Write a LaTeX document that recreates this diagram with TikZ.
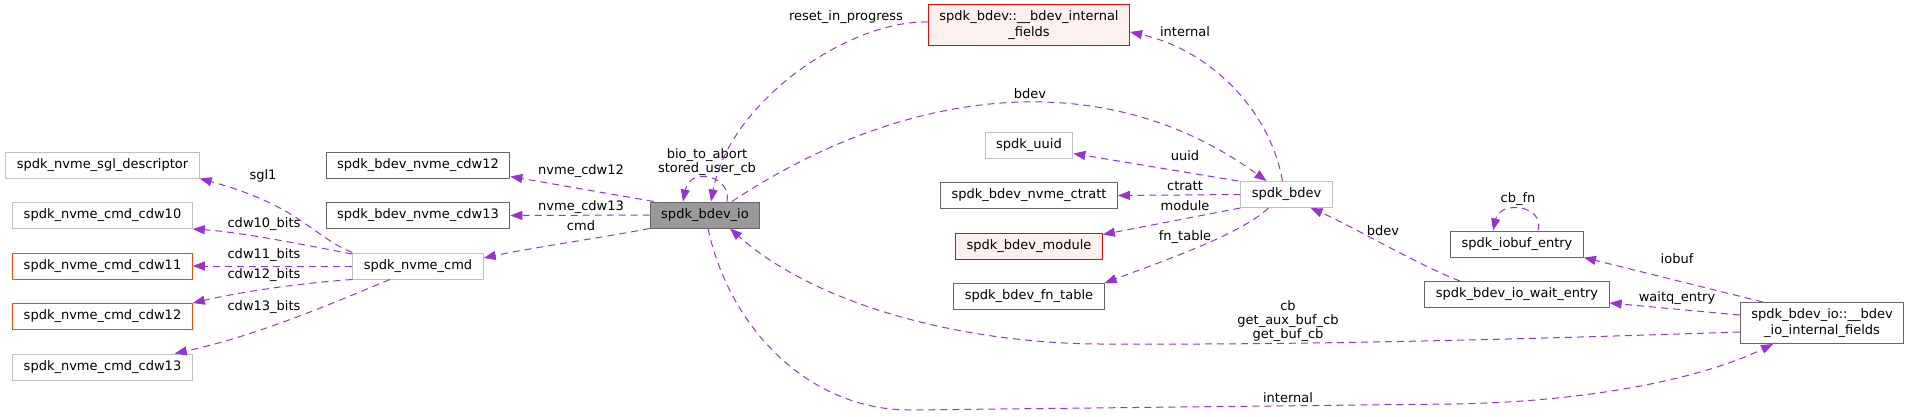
\documentclass[tikz,border=0pt]{standalone}
\usepackage{fontspec}
\setmainfont{DejaVu Sans}
\usetikzlibrary{arrows.meta,positioning,calc}
\usepackage{xcolor}

\definecolor{edgecol}{HTML}{9A32CD}
\definecolor{docline}{HTML}{666666}
\definecolor{undocline}{HTML}{BFBFBF}
\definecolor{rootfill}{HTML}{999999}
\definecolor{truncfill}{HTML}{FFF0F0}
\definecolor{partline}{HTML}{FF4500}

\begin{document}
\begin{tikzpicture}[
    x=1pt, y=-1pt,
    cls/.style={draw, line width=1pt, minimum height=26pt, inner xsep=11pt,
                inner ysep=6pt, align=center, font=\fontsize{13}{16}\selectfont},
    doc/.style={cls, draw=docline, fill=white},
    undoc/.style={cls, draw=undocline, fill=white},
    root/.style={cls, draw=docline, fill=rootfill},
    trunc/.style={cls, draw=red, fill=truncfill},
    partial/.style={cls, draw=partline, fill=white},
    mem/.style={-{Triangle[length=12pt, width=9pt]}, edgecol, line width=1pt,
                dash pattern=on 7pt off 5pt},
    lbl/.style={font=\fontsize{13}{14}\selectfont, align=center, inner sep=0pt},
    node distance=23.5pt
  ]
  \useasboundingbox (0,0) rectangle (1911,416);

  % nvme command words
  \node[undoc] (sgl) at (102.5,165) {spdk\_nvme\_sgl\_descriptor};
  \node[undoc, below=of sgl] (cdw10) {spdk\_nvme\_cmd\_cdw10};
  \node[partial, below=of cdw10] (cdw11) {spdk\_nvme\_cmd\_cdw11};
  \node[partial, below=of cdw11] (cdw12) {spdk\_nvme\_cmd\_cdw12};
  \node[undoc, below=of cdw12] (cdw13) {spdk\_nvme\_cmd\_cdw13};

  \node[doc] (bdevcdw12) at (418,165) {spdk\_bdev\_nvme\_cdw12};
  \node[doc, below=of bdevcdw12] (bdevcdw13) {spdk\_bdev\_nvme\_cdw13};
  \node[undoc, below=of bdevcdw13] (nvmecmd) {spdk\_nvme\_cmd};

  \node[root] (bdevio) at (705,215) {spdk\_bdev\_io};

  % bdev side
  \node[trunc] (bdevint) at (1029,25) {spdk\_bdev::\_\_bdev\_internal\\\_fields};
  \node[undoc] (uuid) at (1029,145) {spdk\_uuid};
  \node[doc, below=of uuid] (ctratt) {spdk\_bdev\_nvme\_ctratt};
  \node[trunc, below=of ctratt] (module) {spdk\_bdev\_module};
  \node[doc, below=of module] (fntable) {spdk\_bdev\_fn\_table};
  \node[undoc] (spdkbdev) at (1286.5,194.5) {spdk\_bdev};

  \node[doc] (iobuf) at (1517,244) {spdk\_iobuf\_entry};
  \node[doc, below=of iobuf] (waitentry) {spdk\_bdev\_io\_wait\_entry};
  \node[doc] (ioint) at (1822,323) {spdk\_bdev\_io::\_\_bdev\\\_io\_internal\_fields};

  % members of spdk_nvme_cmd
  \draw[mem] (nvmecmd.north west) .. controls (312,236) and (300,206) .. (sgl.south east);
  \draw[mem] ([yshift=12pt]nvmecmd.west) .. controls (300,244) and (240,232) .. (cdw10.south east);
  \draw[mem] (nvmecmd.west) -- (cdw11.east);
  \draw[mem] (nvmecmd.south west) .. controls (300,283) and (240,292) .. (cdw12.north east);
  \draw[mem] ([xshift=-28pt]nvmecmd.south) .. controls (340,300) and (260,335) .. ([xshift=-18pt]cdw13.north east);
  \node[lbl] (lsgl) at (263,176) {sgl1};
  \node[lbl] (lcdw10) at (264,224) {cdw10\_bits};
  \node[lbl] (lcdw11) at (264,255) {cdw11\_bits};
  \node[lbl] (lcdw12) at (264,275) {cdw12\_bits};
  \node[lbl] (lcdw13) at (264,307) {cdw13\_bits};

  % members of spdk_bdev_io
  \draw[mem] ([xshift=4pt]bdevio.north west) -- ([yshift=2pt]bdevcdw12.south east);
  \draw[mem] (bdevio.west) -- (bdevcdw13.east);
  \draw[mem] (bdevio.south west) .. controls (600,238) and (530,248) .. ([yshift=8pt]nvmecmd.east);
  \draw[mem] ([xshift=22pt]bdevio.north) .. controls (732,176) and (690,166) .. ([xshift=-22pt]bdevio.north);
  \draw[mem] ([xshift=27pt]bdevio.north) .. controls (900,90) and (1100,60) .. ([xshift=-20pt]spdkbdev.north);
  \draw[mem] ([xshift=3pt]bdevio.south) .. controls (730,330) and (810,410) .. (910,410)
    -- (1450,404) .. controls (1600,402) and (1710,375) .. ([xshift=-49pt]ioint.south);
  \node[lbl] (lnvcdw12) at (581,171) {nvme\_cdw12};
  \node[lbl] (lnvcdw13) at (581,207) {nvme\_cdw13};
  \node[lbl] (lcmd) at (581,226) {cmd};
  \node[lbl] (lloop) at (707,162) {bio\_to\_abort\\stored\_user\_cb};
  \node[lbl] (lbdev) at (1030,94) {bdev};
  \node[lbl] (linternal) at (1288,398) {internal};

  % members of spdk_bdev
  \draw[mem] ([yshift=3pt]bdevint.west) .. controls (850,20) and (730,100) .. ([xshift=6pt]bdevio.north);
  \draw[mem] ([xshift=-4pt]spdkbdev.north) .. controls (1270,110) and (1210,50) .. ([yshift=-7pt]bdevint.east);
  \draw[mem] ([xshift=-2pt]spdkbdev.north west) -- ([yshift=5pt]uuid.south east);
  \draw[mem] (spdkbdev.west) -- (ctratt.east);
  \draw[mem] (spdkbdev.south west) -- ([yshift=-2pt]module.north east);
  \draw[mem] ([xshift=-18pt]spdkbdev.south) .. controls (1240,235) and (1160,262) .. (fntable.north east);
  \node[lbl] (lreset) at (846,17) {reset\_in\_progress};
  \node[lbl] (lbdevint) at (1185,32) {internal};
  \node[lbl] (luuid) at (1185,156) {uuid};
  \node[lbl] (lctratt) at (1185,186) {ctratt};
  \node[lbl] (lmodule) at (1185,206) {module};
  \node[lbl] (lfntable) at (1185,237) {fn\_table};

  % internal fields of the io
  \draw[mem] ([xshift=-57pt]waitentry.north) .. controls (1420,266) and (1350,225) .. ([xshift=24pt]spdkbdev.south);
  \draw[mem] ([xshift=21pt]iobuf.north) .. controls (1545,205) and (1500,200) .. ([xshift=-24pt]iobuf.north);
  \draw[mem] ([xshift=-59pt]ioint.north) -- (iobuf.south east);
  \draw[mem] ([yshift=8pt]ioint.west) -- ([yshift=-8.5pt]waitentry.east);
  \draw[mem] ([yshift=-9pt]ioint.west) .. controls (1500,340) and (1300,345) .. (1100,344)
    .. controls (950,343) and (810,300) .. ([xshift=25pt]bdevio.south);
  \node[lbl] (lbdev2) at (1383,231) {bdev};
  \node[lbl] (lcbfn) at (1518,199) {cb\_fn};
  \node[lbl] (liobuf) at (1677,259) {iobuf};
  \node[lbl] (lwaitq) at (1677,298) {waitq\_entry};
  \node[lbl] (lcb) at (1288,321) {cb\\get\_aux\_buf\_cb\\get\_buf\_cb};
\end{tikzpicture}
\end{document}
